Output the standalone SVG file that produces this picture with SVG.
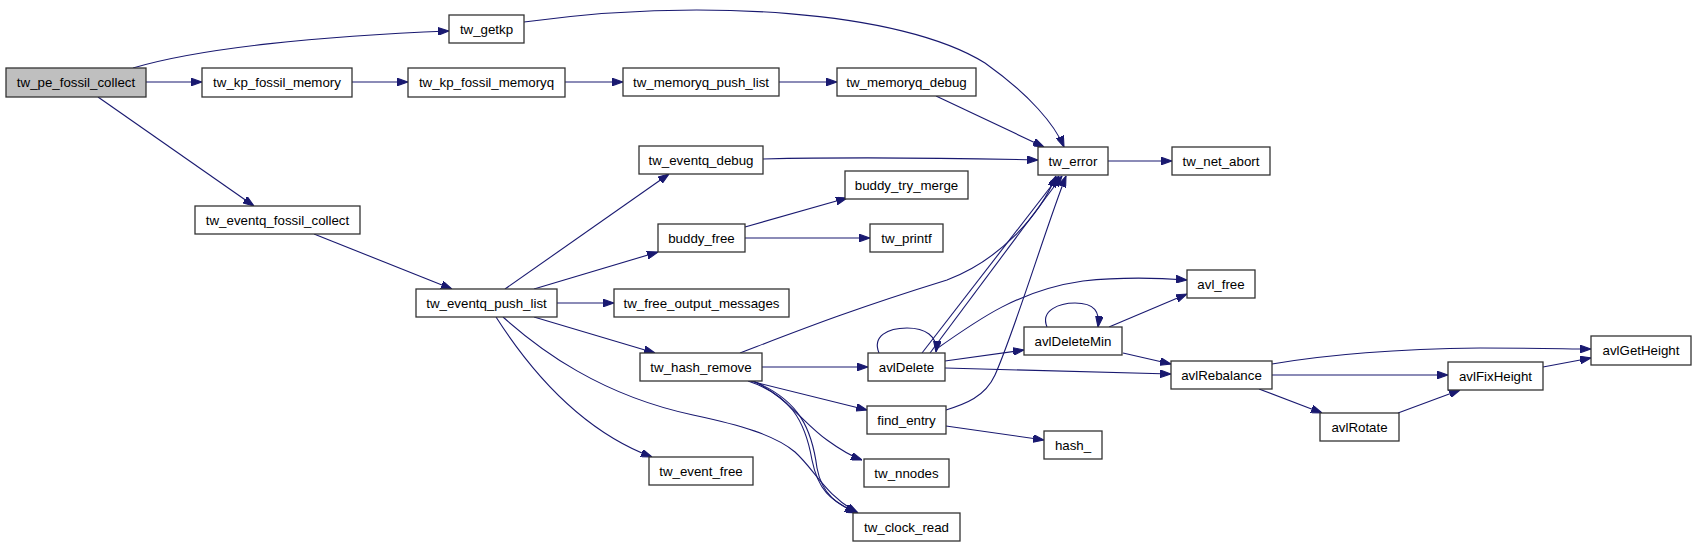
<svg xmlns="http://www.w3.org/2000/svg" width="1696" height="547" viewBox="0 0 1696 547">
<style>
.n rect{fill:#fff;stroke:#333;stroke-width:1.3}
.n text{font-family:"Liberation Sans",Arial,sans-serif;font-size:13.3px;fill:#000;text-anchor:middle}
#n_pe rect{fill:#bfbfbf}
.e path{fill:none;stroke:#191970;stroke-width:1.1;marker-end:url(#ah)}
</style>
<defs>
<marker id="ah" viewBox="0 0 10 7" refX="10" refY="3.5" markerUnits="userSpaceOnUse" markerWidth="11" markerHeight="8" orient="auto">
<polygon points="0,0 10,3.5 0,7" fill="#191970" stroke="#191970"/>
</marker>
</defs>
<rect width="1696" height="547" fill="#fff"/>
<g id="edges" class="e">
<path d="M133,68 C200,48 320,36 449,31"/>
<path d="M146,82 L202,82"/>
<path d="M98,97 L254,206"/>
<path d="M352,82 L408,82"/>
<path d="M565,82 L623,82"/>
<path d="M779,82 L837,82"/>
<path d="M936,96 L1044,147"/>
<path d="M524,22 C700,-2 900,10 985,63 C1030,95 1055,125 1064,147"/>
<path d="M763,159 C850,157 950,158 1038,160"/>
<path d="M1108,161 L1172,161"/>
<path d="M314,234 L452,289"/>
<path d="M505,289 L669,174"/>
<path d="M534,289 L658,252"/>
<path d="M745,227 L847,198"/>
<path d="M745,238 L870,238"/>
<path d="M557,303 L614,303"/>
<path d="M534,317 L655,353"/>
<path d="M496,317 C530,370 580,430 652,457"/>
<path d="M503,317 C540,350 600,395 693,415 C740,425 775,435 795,452 C815,470 825,495 858,513"/>
<path d="M740,353 C800,330 850,310 947,280 C1000,260 1040,215 1056,176"/>
<path d="M762,367 L868,367"/>
<path d="M750,381 L867,410"/>
<path d="M753,381 C785,395 805,425 827,440 C838,448 848,455 862,460"/>
<path d="M748,381 C790,395 805,420 812,460 C818,490 830,500 856,513"/>
<path d="M753,381 C800,400 812,430 817,468 C822,495 838,505 858,513"/>
<path d="M879,353 C872,336 888,328 907,328 C925,328 938,336 936,352"/>
<path d="M922,353 L1059,176"/>
<path d="M930,353 L1062,176"/>
<path d="M935,350 C980,318 1020,290 1083,281 C1120,277 1160,278 1187,280"/>
<path d="M945,361 L1024,350"/>
<path d="M945,368 C1050,371 1120,373 1171,374"/>
<path d="M1047,327 C1040,310 1060,303 1075,303 C1095,303 1100,312 1098,327"/>
<path d="M1109,327 L1187,294"/>
<path d="M1123,353 L1171,364"/>
<path d="M946,410 C965,404 985,397 995,375 C1015,330 1045,230 1066,176"/>
<path d="M946,426 L1044,440"/>
<path d="M1272,364 C1330,354 1400,349 1480,348 C1540,348 1570,349 1591,349"/>
<path d="M1272,375 L1448,375"/>
<path d="M1259,389 L1322,413"/>
<path d="M1398,413 L1460,390"/>
<path d="M1543,367 L1591,358"/>
</g>
<g id="n_pe" class="n"><rect x="6" y="68" width="140" height="29"/><text x="76" y="87">tw_pe_fossil_collect</text></g>
<g id="n_getkp" class="n"><rect x="449" y="15" width="75" height="28"/><text x="486.5" y="34">tw_getkp</text></g>
<g id="n_kpfm" class="n"><rect x="202" y="68" width="150" height="29"/><text x="277" y="87">tw_kp_fossil_memory</text></g>
<g id="n_kpfmq" class="n"><rect x="408" y="68" width="157" height="29"/><text x="486.5" y="87">tw_kp_fossil_memoryq</text></g>
<g id="n_efc" class="n"><rect x="195" y="206" width="165" height="28"/><text x="277.5" y="225">tw_eventq_fossil_collect</text></g>
<g id="n_mqpl" class="n"><rect x="623" y="68" width="156" height="28"/><text x="701" y="87">tw_memoryq_push_list</text></g>
<g id="n_mqd" class="n"><rect x="837" y="68" width="139" height="28"/><text x="906.5" y="87">tw_memoryq_debug</text></g>
<g id="n_eqd" class="n"><rect x="639" y="146" width="124" height="28"/><text x="701" y="165">tw_eventq_debug</text></g>
<g id="n_err" class="n"><rect x="1038" y="147" width="70" height="28"/><text x="1073" y="166">tw_error</text></g>
<g id="n_abort" class="n"><rect x="1172" y="147" width="98" height="28"/><text x="1221" y="166">tw_net_abort</text></g>
<g id="n_btm" class="n"><rect x="845" y="171" width="123" height="28"/><text x="906.5" y="190">buddy_try_merge</text></g>
<g id="n_epl" class="n"><rect x="416" y="289" width="141" height="28"/><text x="486.5" y="308">tw_eventq_push_list</text></g>
<g id="n_bf" class="n"><rect x="658" y="224" width="87" height="28"/><text x="701.5" y="243">buddy_free</text></g>
<g id="n_printf" class="n"><rect x="870" y="224" width="73" height="28"/><text x="906.5" y="243">tw_printf</text></g>
<g id="n_fom" class="n"><rect x="614" y="289" width="175" height="28"/><text x="701.5" y="308">tw_free_output_messages</text></g>
<g id="n_hr" class="n"><rect x="640" y="353" width="122" height="28"/><text x="701" y="372">tw_hash_remove</text></g>
<g id="n_avld" class="n"><rect x="868" y="353" width="77" height="28"/><text x="906.5" y="372">avlDelete</text></g>
<g id="n_fe" class="n"><rect x="867" y="406" width="79" height="28"/><text x="906.5" y="425">find_entry</text></g>
<g id="n_ef" class="n"><rect x="649" y="457" width="104" height="28"/><text x="701" y="476">tw_event_free</text></g>
<g id="n_nn" class="n"><rect x="864" y="459" width="85" height="28"/><text x="906.5" y="478">tw_nnodes</text></g>
<g id="n_cr" class="n"><rect x="853" y="513" width="107" height="28"/><text x="906.5" y="532">tw_clock_read</text></g>
<g id="n_adm" class="n"><rect x="1024" y="327" width="98" height="28"/><text x="1073" y="346">avlDeleteMin</text></g>
<g id="n_afree" class="n"><rect x="1187" y="270" width="68" height="28"/><text x="1221" y="289">avl_free</text></g>
<g id="n_reb" class="n"><rect x="1171" y="361" width="101" height="28"/><text x="1221.5" y="380">avlRebalance</text></g>
<g id="n_gh" class="n"><rect x="1591" y="336" width="100" height="29"/><text x="1641" y="355">avlGetHeight</text></g>
<g id="n_fh" class="n"><rect x="1448" y="362" width="95" height="28"/><text x="1495.5" y="381">avlFixHeight</text></g>
<g id="n_rot" class="n"><rect x="1320" y="413" width="79" height="28"/><text x="1359.5" y="432">avlRotate</text></g>
<g id="n_hash" class="n"><rect x="1044" y="431" width="58" height="28"/><text x="1073" y="450">hash_</text></g>
</svg>
